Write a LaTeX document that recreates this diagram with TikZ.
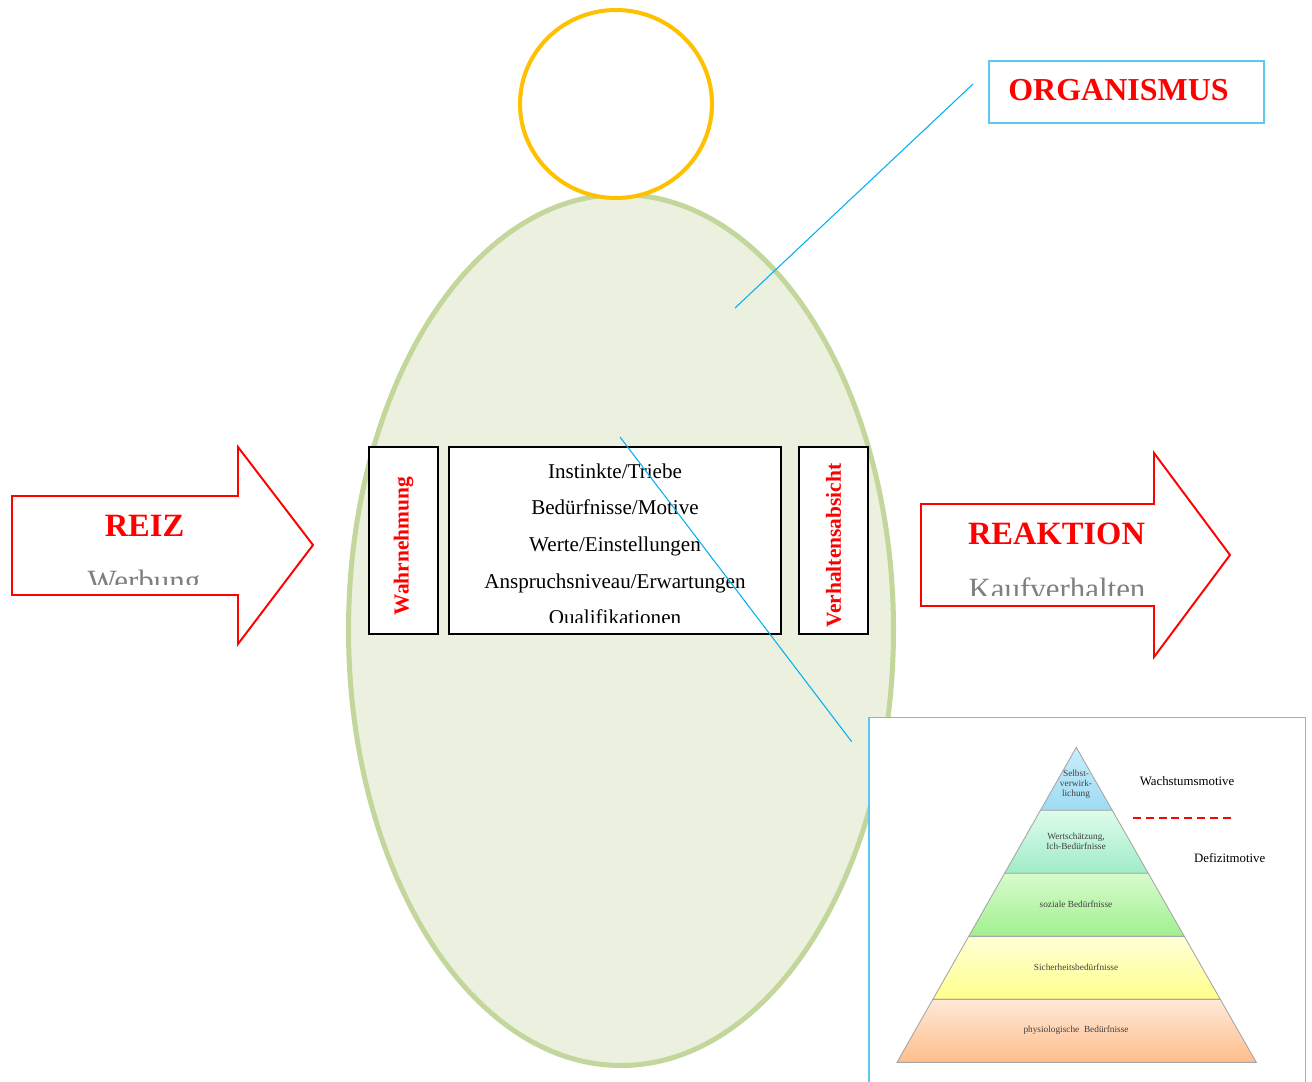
\documentclass[tikz,border=0pt]{standalone}
\usepackage{fontspec}
\setmainfont{Liberation Serif}
\usetikzlibrary{calc}
\usetikzlibrary{positioning}

\definecolor{bodyfill}{HTML}{EBF1DE}
\definecolor{bodyline}{HTML}{C3D69B}
\definecolor{headline}{HTML}{FFC000}
\definecolor{calloutblue}{HTML}{00B0F0}
\definecolor{frameblue}{HTML}{5CC8F0}
\definecolor{subgray}{HTML}{7F7F7F}
\definecolor{pyrtext}{HTML}{404040}
\definecolor{pyredge}{HTML}{A6A6A6}

\tikzset{
    innerbox/.style={rectangle, draw=black, line width=1.1pt, fill=white, inner sep=0pt},
    rottext/.style={rotate=90, text=red, font=\bfseries\fontsize{12.2}{14}\selectfont},
    bigred/.style={text=red, font=\bfseries\fontsize{18.5}{20}\selectfont, anchor=base},
    subtext/.style={text=subgray, font=\fontsize{17.6}{19}\selectfont, anchor=base},
    motivline/.style={font=\fontsize{12}{14}\selectfont, anchor=base},
    pyrlabel/.style={text=pyrtext, font=\fontsize{5.3}{5.7}\selectfont, align=center},
    motivtype/.style={font=\fontsize{7.3}{8}\selectfont},
}

\begin{document}
\begin{tikzpicture}[x=0.02cm, y=-0.02cm]
    \clip (0,0) rectangle (1312,1082);

    % Koerper und Kopf
    \draw [fill=bodyfill, draw=bodyline, line width=2.85pt] (621,630) ellipse [x radius=272.5, y radius=435.5];
    \draw [fill=white, draw=headline, line width=2.3pt] (616,104) ellipse [x radius=96, y radius=94];

    % innere Kaesten
    \node [innerbox, minimum width=1.38cm, minimum height=3.74cm] (wahrbox) at (403.5,540.5) {};
    \node [innerbox, minimum width=6.64cm, minimum height=3.74cm] (motive) at (615,540.5) {};
    \node [innerbox, minimum width=1.38cm, minimum height=3.74cm] (absichtbox) at (833.5,540.5) {};
    \node [rottext] (wahrnehmung) at (403.5,546) {Wahrnehmung};
    \node [rottext] (absicht) at (833.5,545.5) {Verhaltensabsicht};

    \begin{scope}
        \clip (449,447) rectangle (781,622);
        \foreach \txt [count=\i] in {Instinkte/Triebe, Bedürfnisse/Motive, Werte/Einstellungen, Anspruchsniveau/Erwartungen, Qualifikationen}
            \node [motivline] (motiv\i) at (615,{478+(\i-1)*36.7}) {\txt};
    \end{scope}

    % Reiz
    \draw [red, line width=1.1pt] (12,496) -- (238,496) -- (238,447) -- (313,545) -- (238,644) -- (238,595) -- (12,595) -- cycle;
    \node [bigred] (reiz) at (144.5,536.7) {REIZ};
    \begin{scope}
        \clip (12,496) rectangle (238,584);
        \node [subtext] (werbung) at (144,591.5) {Werbung};
    \end{scope}

    % Reaktion
    \draw [red, line width=1.1pt] (921,504) -- (1154,504) -- (1154,453) -- (1230,555) -- (1154,657) -- (1154,606) -- (921,606) -- cycle;
    \node [bigred] (reaktion) at (1056.5,544.3) {REAKTION};
    \begin{scope}
        \clip (921,504) rectangle (1154,595.5);
        \node [subtext] (kauf) at (1057,599.5) {Kaufverhalten};
    \end{scope}

    % Organismus
    \node [rectangle, draw=frameblue, line width=0.8pt, minimum width=5.5cm, minimum height=1.24cm] (orgbox) at (1126.5,92) {};
    \node [bigred, font=\bfseries\fontsize{18.2}{20}\selectfont] (organismus) at (1118.5,100) {ORGANISMUS};
    \coordinate (orgstart) at (973,84);
    \coordinate (orgend) at (735,308);
    \draw [calloutblue, line width=0.6pt] (orgstart) -- (orgend);

    % Pyramide
    \draw [frameblue, line width=0.8pt, fill=white] (869,717.7) rectangle (1305.3,1100);
    \coordinate (apex) at (1076.3,747.3);
    \coordinate (bl) at (897,1062.3);
    \coordinate (br) at (1256.3,1062.3);
    \foreach \a/\b/\ctop/\cbot in {0/0.2/{rgb,255:red,200;green,238;blue,251}/{rgb,255:red,158;green,219;blue,243},
                                  0.2/0.4/{rgb,255:red,222;green,251;blue,234}/{rgb,255:red,160;green,236;blue,200},
                                  0.4/0.6/{rgb,255:red,216;green,251;blue,204}/{rgb,255:red,160;green,240;blue,144},
                                  0.6/0.8/{rgb,255:red,255;green,255;blue,214}/{rgb,255:red,255;green,255;blue,140},
                                  0.8/1/{rgb,255:red,255;green,232;blue,216}/{rgb,255:red,255;green,190;blue,140}}
        \path [draw=pyredge, line width=0.5pt, top color=\ctop, bottom color=\cbot]
            ($(apex)!\a!(bl)$) -- ($(apex)!\a!(br)$) -- ($(apex)!\b!(br)$) -- ($(apex)!\b!(bl)$) -- cycle;

    \node [pyrlabel] (selbst) at (1076,784) {Selbst-\\verwirk-\\lichung};
    \node [pyrlabel] (wert) at (1076,841.3) {Wertschätzung,\\Ich-Bedürfnisse};
    \node [pyrlabel] (sozial) at (1076,904) {soziale Bedürfnisse};
    \node [pyrlabel] (sicher) at (1076,967.7) {Sicherheitsbedürfnisse};
    \node [pyrlabel] (physio) at (1076,1030.7) {physiologische\ \ Bedürfnisse};

    \node [motivtype] (wachstum) at (1187,780.7) {Wachstumsmotive};
    \node [motivtype] (defizit) at (1229.7,857.7) {Defizitmotive};
    \coordinate (grenzeL) at (1133,818.3);
    \coordinate (grenzeR) at (1231,818.3);
    \draw [red, line width=1.1pt, dash pattern=on 4.5pt off 2.8pt] (grenzeL) -- (grenzeR);

    \coordinate (pyrstart) at (620,437);
    \coordinate (pyrend) at (851.7,741.7);
    \draw [calloutblue, line width=0.6pt] (pyrstart) -- (pyrend);
\end{tikzpicture}
\end{document}
